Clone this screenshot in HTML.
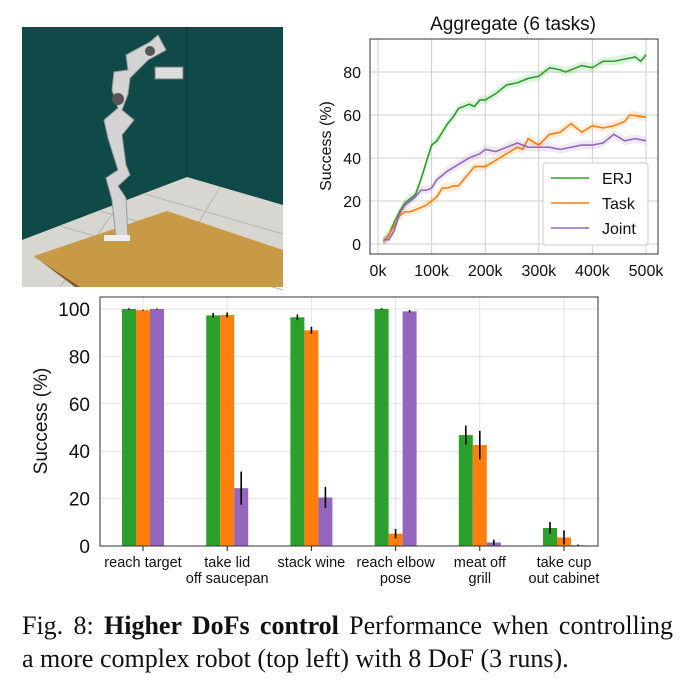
<!DOCTYPE html>
<html><head><meta charset="utf-8"><style>
body{margin:0;background:#fff;width:686px;height:699px;overflow:hidden;position:relative;font-family:"Liberation Sans",sans-serif}
svg{position:absolute;left:0;top:0}
.cap{position:absolute;left:22px;width:651px;font-family:"Liberation Serif",serif;font-size:26px;color:#111;line-height:33px;text-align:justify;text-align-last:justify;white-space:nowrap}
</style></head><body>
<svg width="686" height="699" id="s">
<g>
<rect x="22" y="27" width="261" height="260" fill="#0f4a48"/>
<polygon points="22,240 187,177 283,205 283,287 22,287" fill="#d8d6d0"/>
<line x1="187" y1="27" x2="187" y2="177" stroke="#0a3433" stroke-width="1"/>
<g stroke="#b8b6b0" stroke-width="1"><line x1="60" y1="226" x2="283" y2="290"/><line x1="100" y1="211" x2="283" y2="262"/><line x1="145" y1="194" x2="283" y2="234"/><line x1="120" y1="203" x2="60" y2="287"/><line x1="220" y1="187" x2="160" y2="287"/></g>
<polygon points="34,256 167,211 283,250 283,287 75,287" fill="#c99a45"/>
<polygon points="34,256 75,287 80,287 36,258" fill="#7a5a2a"/>
<path d="M116,238 L112,200 L106,178 L118,170 L108,138 L104,120 L118,108 L112,90 L114,72 L128,70 L126,55 L150,42 L158,35 L166,50 L148,60 L138,70 L130,78 L128,94 L122,110 L134,120 L122,135 L126,165 L130,175 L118,186 L126,198 L128,238 Z" fill="#d4d4d4" stroke="#999" stroke-width="1"/>
<circle cx="118" cy="99" r="6" fill="#555"/><circle cx="150" cy="51" r="5" fill="#555"/>
<rect x="155" y="67" width="28" height="12" fill="#ddd" stroke="#777"/>
<rect x="104" y="235" width="26" height="6" fill="#eee"/>
</g>
<text x="513" y="30" font-size="19" text-anchor="middle" fill="#111">Aggregate (6 tasks)</text>
<g id="lc"></g>
<g id="bc"></g>
</svg>
<div class="cap" style="top:609px">Fig. 8: <b>Higher DoFs control</b> Performance when controlling</div>
<div class="cap" style="top:642px;text-align-last:left">a more complex robot (top left) with 8 DoF (3 runs).</div>
<script>
const NS="http://www.w3.org/2000/svg";
function mk(p,t,a){const e=document.createElementNS(NS,t);for(const k in a)e.setAttribute(k,a[k]);p.appendChild(e);return e;}
const erjX=[10,20,30,40,50,60,70,80,90,100,110,120,130,140,150,160,170,180,190,200,220,240,260,280,300,320,340,350,360,380,400,420,440,460,480,490,500];
const erjY=[1,4,10,15,19,21,23,30,38,46,48,52,56,59,63,64,65,64,67,67,70,74,75,77,78,82,81,80,81,83,82,85,85,86,87,85,88];
const taskX=[10,30,40,50,60,70,80,90,100,110,120,130,140,150,160,170,180,200,220,240,260,270,280,300,320,340,360,380,400,420,440,460,470,500];
const taskY=[1,8,13,15,15,16,17,18,20,22,26,26,27,27,30,33,36,36,39,42,45,44,49,46,51,52,56,52,55,54,55,57,60,59];
const jointX=[10,20,30,40,50,60,70,80,90,100,110,120,130,150,170,190,200,220,240,260,280,300,320,340,360,380,400,420,440,460,480,500];
const jointY=[2,2,6,14,18,20,22,25,25,26,30,32,34,37,40,42,44,43,45,47,45,45,45,44,45,46,46,47,51,48,49,48];
const xTicks=[0,100,200,300,400,500];
const yTicks=[0,20,40,60,80];
const lx=v=>378+v*(646-378)/500, ly=v=>244-v*172/80;
const lc=document.getElementById('lc');
for(const t of xTicks){mk(lc,'line',{x1:lx(t),x2:lx(t),y1:39,y2:254,stroke:'#d0d0d0'});
 const e=mk(lc,'text',{x:lx(t),y:276,'font-size':16,'text-anchor':'middle',fill:'#111'});e.textContent=t+'k';
 
 }
for(const t of yTicks){mk(lc,'line',{x1:370,x2:658,y1:ly(t),y2:ly(t),stroke:'#d0d0d0'});
 const e=mk(lc,'text',{x:361,y:ly(t)+6,'font-size':16,'text-anchor':'end',fill:'#111'});e.textContent=t;
 
 }
mk(lc,'rect',{x:370,y:39,width:288,height:215,fill:'none',stroke:'#333'});
const yt=mk(lc,'text',{x:331,y:146,'font-size':16,'text-anchor':'middle',fill:'#111',transform:'rotate(-90 331 146)'});yt.textContent='Success (%)';


const series=[[erjX,erjY,'#2ca02c','ERJ'],[taskX,taskY,'#ff7f0e','Task'],[jointX,jointY,'#9467bd','Joint']];
series.forEach(([X,Y,c,n])=>{
 const up=X.map((x,i)=>lx(x)+','+ly(Y[i]+2)).join(' '), dn=X.map((x,i)=>lx(x)+','+ly(Y[i]-2)).reverse().join(' ');
 const b=mk(lc,'polygon',{points:up+' '+dn,fill:c,opacity:0.15});
 
 
 const l=mk(lc,'polyline',{points:X.map((x,i)=>lx(x)+','+ly(Y[i])).join(' '),fill:'none',stroke:c,'stroke-width':1.6});
 
 
});
const lg=mk(lc,'g',{});


mk(lg,'rect',{x:543,y:163,width:105,height:82,rx:3,fill:'#fff',stroke:'#ccc','fill-opacity':0.9});
series.forEach(([X,Y,c,n],i)=>{const y=178+i*25;
 mk(lg,'line',{x1:551,x2:589,y1:y,y2:y,stroke:c,'stroke-width':1.6});
 const t=mk(lg,'text',{x:602,y:y+6,'font-size':16,fill:'#111'});t.textContent=n;
 
 });
const cats=[['reach target'],['take lid','off saucepan'],['stack wine'],['reach elbow','pose'],['meat off','grill'],['take cup','out cabinet']];
const erjV=[100,97.3,96.5,100,46.8,7.6], erjE=[0.3,1,1.2,0.3,4,2.5];
const taskV=[99.5,97.5,91,5.2,42.6,3.6], taskE=[0.2,1,1.5,2,6,3];
const jointV=[100,24.4,20.5,99,1.5,0.3], jointE=[0.2,7,4.5,0.5,1.2,0.3];
const bTicks=[0,20,40,60,80,100];
const bc=document.getElementById('bc');
const by=v=>546-v*(546-309)/100, bx=i=>143+i*84.2;
for(const t of bTicks){mk(bc,'line',{x1:100,x2:598,y1:by(t),y2:by(t),stroke:'#e4e4e4'});
 const e=mk(bc,'text',{x:90,y:by(t)+7,'font-size':19,'text-anchor':'end',fill:'#111'});e.textContent=t;
 
 }
cats.forEach((c,i)=>{mk(bc,'line',{x1:bx(i),x2:bx(i),y1:297,y2:550,stroke:'#e4e4e4'});mk(bc,'line',{x1:bx(i),x2:bx(i),y1:546,y2:551,stroke:'#222'});
 c.forEach((s,j)=>{const e=mk(bc,'text',{x:bx(i),y:567+j*16,'font-size':14.5,'text-anchor':'middle',fill:'#111'});e.textContent=s;
 
 });});
[[erjV,erjE,'#2ca02c',-1],[taskV,taskE,'#ff7f0e',0],[jointV,jointE,'#9467bd',1]].forEach(([V,E,c,o])=>{
 V.forEach((v,i)=>{const cx=bx(i)+o*14;
  const r=mk(bc,'rect',{x:cx-7,y:by(v),width:14,height:546-by(v),fill:c});
  
  
  mk(bc,'line',{x1:cx,x2:cx,y1:by(v+E[i]),y2:by(Math.max(0,v-E[i])),stroke:'#000','stroke-width':1.6});});});
mk(bc,'rect',{x:100,y:297,width:498,height:249,fill:'none',stroke:'#333'});
const bt=mk(bc,'text',{x:47,y:421,'font-size':19,'text-anchor':'middle',fill:'#111',transform:'rotate(-90 47 421)'});bt.textContent='Success (%)';


</script>
</body></html>
